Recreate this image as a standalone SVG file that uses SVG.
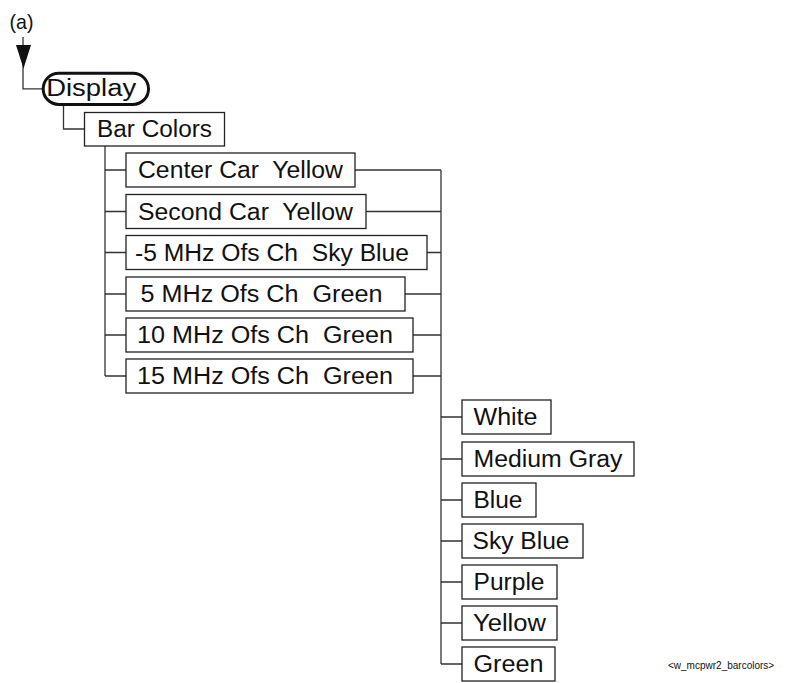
<svg xmlns="http://www.w3.org/2000/svg" width="805" height="683" viewBox="0 0 805 683">
<style>
.bx{fill:#fff;stroke:#222;stroke-width:1.3}
.pill{fill:#fff;stroke:#111;stroke-width:3}
.t{font-family:"Liberation Sans",Arial,sans-serif;font-size:23.5px;fill:#111;white-space:pre}
.c{fill:none;stroke:#333;stroke-width:1.3}
.ft{font-family:"Liberation Sans",Arial,sans-serif;font-size:10px;fill:#111}
</style>
<rect width="805" height="683" fill="#fff"/>
<text class="t" x="9.5" y="29" style="font-size:21px" textLength="24" lengthAdjust="spacingAndGlyphs">(a)</text>
<g id="connectors">
<path class="c" d="M23 37 V88.8 H43"/>
<polygon points="16,45 31,45 23.5,68.5" fill="#111"/>
<path class="c" d="M63.5 105 V129 H84.5"/>
<path class="c" d="M105 146 V376"/>
<path class="c" d="M105 170 H126 M105 211.5 H126 M105 252.5 H126 M105 294 H126 M105 335 H126 M105 376 H126"/>
<path class="c" d="M355 170 H441 M366 211.5 H441 M427 252.5 H441 M405 294 H441 M413 335 H441 M413 376 H441"/>
<path class="c" d="M441 170 V664"/>
<path class="c" d="M441 417 H462 M441 459 H462 M441 500 H462 M441 541 H462 M441 582 H462 M441 623 H462 M441 664 H462"/>
</g>
<g id="display"><rect class="pill" x="43.2" y="73.2" width="105.3" height="31.3" rx="15.6"/><text class="t" x="46.2" y="95.5" textLength="90" lengthAdjust="spacingAndGlyphs">Display</text></g>
<g id="barcolors"><rect class="bx" x="84.5" y="112.5" width="140" height="33.5"/><text class="t" x="97" y="137" textLength="115" lengthAdjust="spacingAndGlyphs">Bar Colors</text></g>
<g id="centercar"><rect class="bx" x="126" y="153" width="229" height="34"/><text class="t" x="138" y="178" textLength="205" lengthAdjust="spacingAndGlyphs">Center Car  Yellow</text></g>
<g id="secondcar"><rect class="bx" x="126" y="194.5" width="240" height="34"/><text class="t" x="138" y="219.5" textLength="215" lengthAdjust="spacingAndGlyphs">Second Car  Yellow</text></g>
<g id="m5mhz"><rect class="bx" x="126" y="235.5" width="301" height="34"/><text class="t" x="135" y="260.5" textLength="274" lengthAdjust="spacingAndGlyphs">-5 MHz Ofs Ch  Sky Blue</text></g>
<g id="p5mhz"><rect class="bx" x="126" y="277" width="279" height="34"/><text class="t" x="140.5" y="302" textLength="242" lengthAdjust="spacingAndGlyphs">5 MHz Ofs Ch  Green</text></g>
<g id="p10mhz"><rect class="bx" x="126" y="318" width="287" height="34"/><text class="t" x="137" y="343" textLength="256" lengthAdjust="spacingAndGlyphs">10 MHz Ofs Ch  Green</text></g>
<g id="p15mhz"><rect class="bx" x="126" y="359" width="287" height="34"/><text class="t" x="137" y="384" textLength="256" lengthAdjust="spacingAndGlyphs">15 MHz Ofs Ch  Green</text></g>
<g id="white"><rect class="bx" x="462" y="400" width="89" height="34"/><text class="t" x="473.5" y="425" textLength="64" lengthAdjust="spacingAndGlyphs">White</text></g>
<g id="mediumgray"><rect class="bx" x="462" y="442" width="172" height="34"/><text class="t" x="473.5" y="467" textLength="149" lengthAdjust="spacingAndGlyphs">Medium Gray</text></g>
<g id="blue"><rect class="bx" x="462" y="483" width="74" height="34"/><text class="t" x="473.5" y="508" textLength="49" lengthAdjust="spacingAndGlyphs">Blue</text></g>
<g id="skyblue"><rect class="bx" x="462" y="524" width="121" height="34"/><text class="t" x="472.5" y="549" textLength="97" lengthAdjust="spacingAndGlyphs">Sky Blue</text></g>
<g id="purple"><rect class="bx" x="462" y="565" width="95" height="34"/><text class="t" x="473.5" y="590" textLength="71" lengthAdjust="spacingAndGlyphs">Purple</text></g>
<g id="yellow"><rect class="bx" x="462" y="606" width="95" height="34"/><text class="t" x="473" y="631" textLength="73" lengthAdjust="spacingAndGlyphs">Yellow</text></g>
<g id="green"><rect class="bx" x="462" y="647" width="93" height="34"/><text class="t" x="473.5" y="672" textLength="70" lengthAdjust="spacingAndGlyphs">Green</text></g>
<text class="ft" x="668" y="669">&lt;w_mcpwr2_barcolors&gt;</text>
</svg>
